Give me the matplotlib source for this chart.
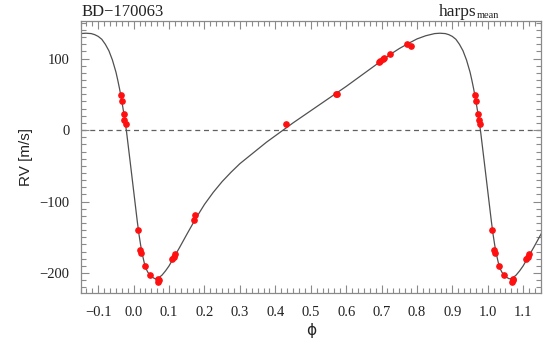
import numpy as np
import matplotlib
matplotlib.use("Agg")
import matplotlib.pyplot as plt
from matplotlib.ticker import AutoMinorLocator

# ---- data (phase-folded, one period) ----
obs_phase = [0.964, 0.966, 0.972, 0.974, 0.977,
             0.012, 0.017, 0.021, 0.031, 0.046, 0.068, 0.070, 0.071,
             0.109, 0.113, 0.117, 0.170, 0.172,
             0.431, 0.571, 0.575,
             0.693, 0.697, 0.703, 0.708, 0.723, 0.771, 0.782]
obs_rv = [49, 40, 22, 14, 9,
          -140, -168, -172, -190, -203, -212, -208, -210,
          -180, -177, -174, -126, -119,
          9, 51, 50,
          95, 97, 99, 101, 107, 120, 117]

model_phase = [0.000, 0.005, 0.010, 0.015, 0.020, 0.025, 0.030, 0.035, 0.040,
               0.050, 0.060, 0.065, 0.070, 0.080, 0.090, 0.100, 0.115, 0.130,
               0.150, 0.175, 0.200, 0.225, 0.250, 0.275, 0.300, 0.325, 0.350,
               0.375, 0.400, 0.425, 0.450, 0.500, 0.550, 0.600, 0.650, 0.700,
               0.725, 0.750, 0.775, 0.800, 0.825, 0.850, 0.865, 0.880, 0.890,
               0.900, 0.910, 0.920, 0.930, 0.940, 0.950, 0.955, 0.960, 0.965,
               0.970, 0.975, 0.980, 0.985, 0.990, 0.995]
model_rv = [-86, -107, -127, -146, -162, -175, -186, -194, -199,
            -205, -208, -208, -207, -203, -197, -190, -177, -164,
            -146, -124, -104, -87, -72, -59, -47, -37, -27,
            -17, -8, 1, 10, 27, 44, 61, 79, 97,
            106, 114, 121, 127.5, 132, 135, 135.5, 135, 133.5,
            131, 127, 120, 111, 98, 81, 70, 58, 45,
            30, 15, -3, -23, -44, -65]

x_ticks = [-0.1, 0.0, 0.1, 0.2, 0.3, 0.4, 0.5, 0.6, 0.7, 0.8, 0.9, 1.0, 1.1]
y_ticks = [-200, -100, 0, 100]
title_left = "BD\u2212170063"
title_right_main = "harps"
title_right_sub = "mean"
xlabel = "\u03d5"
ylabel = "RV [m/s]"

fig = plt.figure(figsize=(5.48, 3.47), dpi=100)
ax = fig.add_axes([0.147, 0.1556, 0.840, 0.7847])

frame_col = "#8a8a8a"
offsets = [-1, 0, 1]
mp = np.concatenate([np.array(model_phase) + o for o in offsets])
mr = np.tile(np.array(model_rv, dtype=float), len(offsets))
ax.plot(mp, mr, color="#505050", lw=0.9, zorder=2)

op = np.concatenate([np.array(obs_phase) + o for o in offsets])
orv = np.tile(np.array(obs_rv, dtype=float), len(offsets))
ax.plot(op, orv, "o", color="#ff1010", ms=3.8, mec="#ff1010", zorder=3)

ax.axhline(0, color="#606060", lw=0.9, ls=(0, (4, 3)), zorder=1)

ax.set_xlim(-0.15, 1.15)
ax.set_ylim(-228, 153)

ax.set_xticks(x_ticks)
ax.set_xticklabels([f"{v:.1f}".replace("-", "\u2212") for v in x_ticks])
ax.set_yticks(y_ticks)
ax.set_yticklabels([str(v).replace("-", "\u2212") for v in y_ticks])
ax.xaxis.set_minor_locator(AutoMinorLocator(6))
ax.yaxis.set_minor_locator(AutoMinorLocator(10))

ax.tick_params(which="both", direction="in", top=True, right=True,
               color=frame_col, width=0.8)
ax.tick_params(which="major", length=6)
ax.tick_params(which="minor", length=3.5)
ax.tick_params(axis="x", which="major", pad=9)
ax.tick_params(axis="y", which="major", pad=8)
for lab in ax.get_xticklabels() + ax.get_yticklabels():
    lab.set_fontfamily("Liberation Serif")
    lab.set_fontsize(10.5)
    lab.set_color("#222222")

for s in ax.spines.values():
    s.set_color(frame_col)
    s.set_linewidth(0.9)

ax.set_xlabel(xlabel, fontsize=11, family="DejaVu Sans", color="#222222")
ax.xaxis.set_label_coords(0.5, -0.11)
ax.xaxis.label.set_va("top")
ax.set_ylabel(ylabel, fontsize=11, family="Liberation Sans", color="#222222")
ax.yaxis.set_label_coords(-0.104, 0.5)

fig.text(81.5 / 548, 1 - 15.5 / 347, title_left, family="Liberation Serif",
         fontsize=12, ha="left", va="baseline", color="#222222")
fig.text(476 / 548, 1 - 15.5 / 347, title_right_main, family="Liberation Serif",
         fontsize=12.5, ha="right", va="baseline", color="#222222")
fig.text(477 / 548, 1 - 18.5 / 347, title_right_sub, family="Liberation Serif",
         fontsize=7.5, ha="left", va="baseline", color="#222222")

fig.savefig("out.png", dpi=100)
